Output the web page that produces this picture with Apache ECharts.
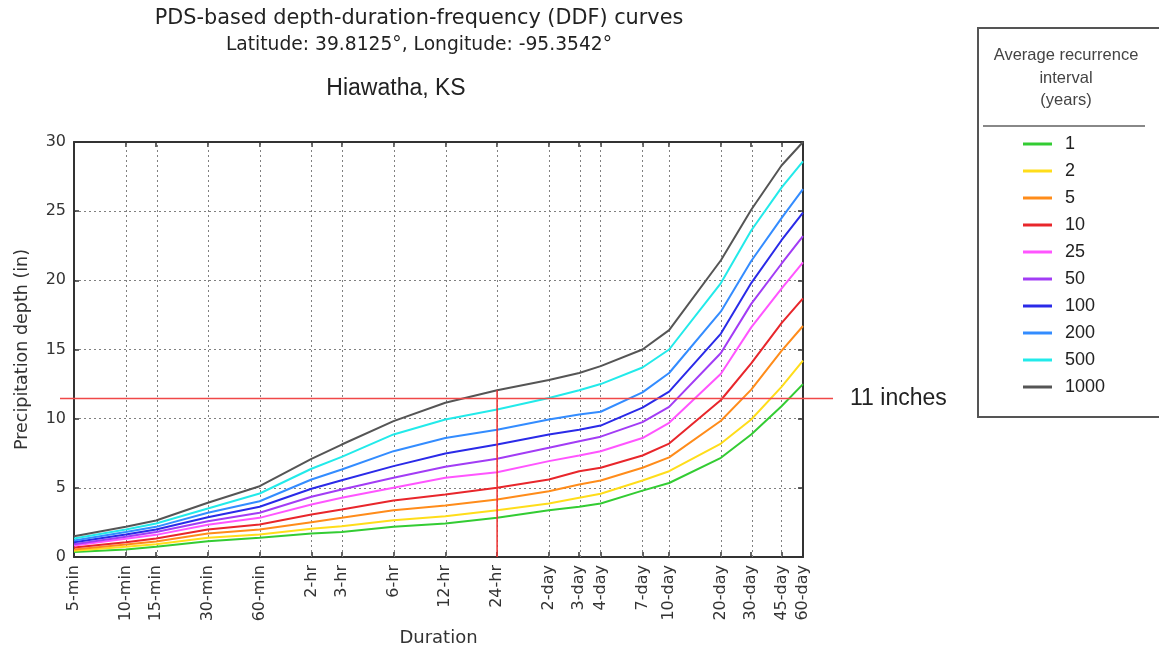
<!DOCTYPE html>
<html><head><meta charset="utf-8">
<script src="https://cdn.jsdelivr.net/npm/echarts@6/dist/echarts.min.js"></script>
<style>html,body{margin:0;padding:0;background:#fff}#c{width:1159px;height:649px}</style>
</head><body><div id="c"></div>
<script>
// ---- data ----
const durationMinutes = [5, 10, 15, 30, 60, 120, 180, 360, 720, 1440, 2880, 4320, 5760, 10080, 14400, 28800, 43200, 64800, 86400];
const durationLabels = ['5-min','10-min','15-min','30-min','60-min','2-hr','3-hr','6-hr','12-hr','24-hr','2-day','3-day','4-day','7-day','10-day','20-day','30-day','45-day','60-day'];
const intervals = ['1','2','5','10','25','50','100','200','500','1000'];
const ari1    = [0.37, 0.55, 0.74, 1.14, 1.39, 1.70, 1.80, 2.18, 2.42, 2.83, 3.38, 3.63, 3.87, 4.80, 5.35, 7.17, 8.86, 10.9, 12.5];
const ari2    = [0.45, 0.74, 0.93, 1.39, 1.63, 2.04, 2.23, 2.66, 2.95, 3.38, 3.87, 4.28, 4.57, 5.53, 6.20, 8.20, 9.94, 12.3, 14.2];
const ari5    = [0.55, 0.90, 1.12, 1.70, 1.99, 2.52, 2.83, 3.38, 3.72, 4.16, 4.76, 5.24, 5.53, 6.45, 7.20, 9.85, 12.1, 14.9, 16.7];
const ari10   = [0.68, 1.07, 1.34, 1.99, 2.35, 3.07, 3.43, 4.08, 4.52, 5.00, 5.60, 6.20, 6.45, 7.34, 8.20, 11.35, 14.0, 16.9, 18.7];
const ari25   = [0.83, 1.32, 1.60, 2.33, 2.83, 3.80, 4.28, 5.00, 5.73, 6.13, 6.93, 7.34, 7.65, 8.60, 9.70, 13.25, 16.6, 19.4, 21.3];
const ari50   = [0.93, 1.46, 1.80, 2.59, 3.20, 4.35, 4.88, 5.73, 6.52, 7.10, 7.90, 8.37, 8.70, 9.75, 10.85, 14.75, 18.3, 21.2, 23.2];
const ari100  = [1.07, 1.63, 1.99, 2.88, 3.63, 4.93, 5.55, 6.57, 7.48, 8.13, 8.86, 9.20, 9.50, 10.8, 11.95, 16.15, 19.8, 22.9, 24.9];
const ari200  = [1.19, 1.80, 2.18, 3.20, 4.03, 5.60, 6.33, 7.65, 8.60, 9.20, 9.94, 10.3, 10.5, 11.9, 13.3, 17.75, 21.4, 24.5, 26.6];
const ari500  = [1.34, 1.99, 2.42, 3.50, 4.59, 6.38, 7.24, 8.86, 9.94, 10.66, 11.5, 12.06, 12.5, 13.7, 15.0, 19.8, 23.6, 26.7, 28.6];
const ari1000 = [1.50, 2.18, 2.64, 3.92, 5.12, 7.10, 8.13, 9.82, 11.15, 12.06, 12.8, 13.3, 13.8, 15.0, 16.4, 21.45, 25.1, 28.3, 30.0];
const yTicks = [0, 5, 10, 15, 20, 25, 30];
const thresholdDepth = 11.45;
const thresholdLabel = '11 inches';
const markerDurationIndex = 9; // 24-hr
const titleText = 'PDS-based depth-duration-frequency (DDF) curves';
const subtitleText = 'Latitude: 39.8125°, Longitude: -95.3542°';
const placeText = 'Hiawatha, KS';
const legendTitle = ['Average recurrence', 'interval', '(years)'];

// ---- styles ----
const colors = ['#33cc33','#ffdd1a','#ff8c1a','#e8262b','#ff55ff','#a23cf5','#2a2ae8','#338cff','#22eaea','#555555'];
const FONT = 'DejaVu Sans';
const FONT2 = 'Liberation Sans';
const seriesValues = [ari1, ari2, ari5, ari10, ari25, ari50, ari100, ari200, ari500, ari1000];

const lg = v => Math.log10(v);
const tickVals = durationMinutes.map(lg);
const xMin = tickVals[0], xMax = tickVals[tickVals.length - 1];
const xRange = xMax - xMin;
// reference line overhangs the plot a little on both sides
const extMin = xMin - 0.0192 * xRange, extMax = xMax + 0.0412 * xRange;
function labelFor(v) {
  let best = 0, bd = 1e9;
  tickVals.forEach((t, i) => { const d = Math.abs(t - v); if (d < bd) { bd = d; best = i; } });
  return durationLabels[best];
}

const gridLine = { color: '#808080', width: 1, type: [2, 3] };
const axisCol = '#333';

const curveSeries = seriesValues.map((vals, i) => ({
  name: intervals[i], type: 'line', xAxisIndex: 0, yAxisIndex: 0,
  data: vals.map((v, j) => [tickVals[j], v]),
  symbol: 'none', silent: true, z: 3,
  lineStyle: { width: 2, color: colors[i] }, itemStyle: { color: colors[i] }
}));

const gridHelper = {
  type: 'line', data: [[xMin, 0]], symbol: 'none', silent: true, z: 1,
  lineStyle: { opacity: 0 },
  markLine: {
    z: 1, silent: true, symbol: 'none', animation: false, label: { show: false },
    lineStyle: gridLine,
    data: tickVals.slice(1, -1).map(t => ({ xAxis: t }))
  }
};

const redVertical = {
  type: 'line', silent: true, z: 6, symbol: 'none',
  data: [[tickVals[markerDurationIndex], 0], [tickVals[markerDurationIndex], ari1000[markerDurationIndex]]],
  lineStyle: { color: '#ee3030', width: 1.5 }
};
const redHorizontal = {
  type: 'line', silent: true, z: 6, symbol: 'none', clip: false,
  xAxisIndex: 2, yAxisIndex: 2,
  data: [[extMin, thresholdDepth], [extMax, thresholdDepth]],
  lineStyle: { color: '#f04848', width: 1.5 },
  endLabel: { show: true, formatter: thresholdLabel, distance: 17, fontSize: 23, fontFamily: FONT2, color: '#222' }
};

const option = {
  animation: false,
  backgroundColor: '#fff',
  grid: [
    { left: 74, right: 356, top: 142, bottom: 92, outerBoundsMode: 'none', containLabel: false },
    { left: 60, right: 326, top: 142, bottom: 92, outerBoundsMode: 'none', containLabel: false }
  ],
  xAxis: [{
    type: 'value', min: xMin, max: xMax, position: 'bottom',
    axisLine: { show: true, onZero: false, lineStyle: { color: axisCol, width: 2 } },
    axisTick: { show: true, inside: true, length: 5, customValues: tickVals, lineStyle: { color: axisCol, width: 1.5 } },
    axisLabel: { show: true, customValues: tickVals, rotate: 90, formatter: v => labelFor(v), fontSize: 16, fontFamily: FONT, color: '#333', margin: 8 },
    splitLine: { show: false },
    name: 'Duration', nameLocation: 'middle', nameGap: 71,
    nameTextStyle: { fontSize: 18, fontFamily: FONT, color: '#333' }
  }, {
    type: 'value', min: xMin, max: xMax, position: 'top',
    axisLine: { show: true, onZero: false, lineStyle: { color: axisCol, width: 2 } },
    axisTick: { show: true, inside: true, length: 5, customValues: tickVals, lineStyle: { color: axisCol, width: 1.5 } },
    axisLabel: { show: false }, splitLine: { show: false }
  }, {
    type: 'value', gridIndex: 1, min: extMin, max: extMax, show: false
  }],
  yAxis: [{
    type: 'value', min: 0, max: 30, interval: 5, position: 'left',
    axisLine: { show: true, onZero: false, lineStyle: { color: axisCol, width: 2 } },
    axisTick: { show: true, inside: true, length: 5, lineStyle: { color: axisCol, width: 1.5 } },
    axisLabel: { fontSize: 16, fontFamily: FONT, color: '#333', margin: 8, customValues: yTicks },
    splitLine: { show: true, lineStyle: gridLine },
    name: 'Precipitation depth (in)', nameLocation: 'middle', nameGap: 43,
    nameTextStyle: { fontSize: 17.5, fontFamily: FONT, color: '#333' }
  }, {
    type: 'value', min: 0, max: 30, interval: 5, position: 'right',
    axisLine: { show: true, onZero: false, lineStyle: { color: axisCol, width: 2 } },
    axisTick: { show: true, inside: true, length: 5, lineStyle: { color: axisCol, width: 1.5 } },
    axisLabel: { show: false }, splitLine: { show: false }
  }, {
    type: 'value', gridIndex: 1, min: 0, max: 30, show: false
  }],
  legend: {
    data: intervals, orient: 'vertical', left: 1023, top: 135, padding: 0, selectedMode: false,
    icon: 'rect', itemWidth: 29, itemHeight: 3, itemGap: 9,
    textStyle: { fontSize: 18, lineHeight: 18, fontFamily: FONT2, color: '#222', padding: [0, 0, 0, 8] }
  },
  graphic: [
    { type: 'text', x: 419, y: 19, style: { text: titleText, font: '20.8px "DejaVu Sans"', fill: '#222', align: 'center', verticalAlign: 'middle' } },
    { type: 'text', x: 419, y: 45, style: { text: subtitleText, font: '18.7px "DejaVu Sans"', fill: '#222', align: 'center', verticalAlign: 'middle' } },
    { type: 'text', x: 396, y: 89, style: { text: placeText, font: '23px "Liberation Sans"', fill: '#222', align: 'center', verticalAlign: 'middle' } },
    { type: 'rect', shape: { x: 978, y: 28, width: 220, height: 389 }, style: { fill: 'none', stroke: '#555', lineWidth: 2 } },
    { type: 'line', shape: { x1: 983, y1: 126, x2: 1145, y2: 126 }, style: { stroke: '#888', lineWidth: 2 } },
    { type: 'text', x: 1066, y: 55, style: { text: legendTitle[0], font: '16.5px "Liberation Sans"', fill: '#444', align: 'center', verticalAlign: 'middle' } },
    { type: 'text', x: 1066, y: 78, style: { text: legendTitle[1], font: '16.5px "Liberation Sans"', fill: '#444', align: 'center', verticalAlign: 'middle' } },
    { type: 'text', x: 1066, y: 100, style: { text: legendTitle[2], font: '16.5px "Liberation Sans"', fill: '#444', align: 'center', verticalAlign: 'middle' } }
  ],
  series: [gridHelper].concat(curveSeries, [redVertical, redHorizontal])
};
const chart = echarts.init(document.getElementById('c'), null, { renderer: 'canvas' });
chart.setOption(option);
</script></body></html>
